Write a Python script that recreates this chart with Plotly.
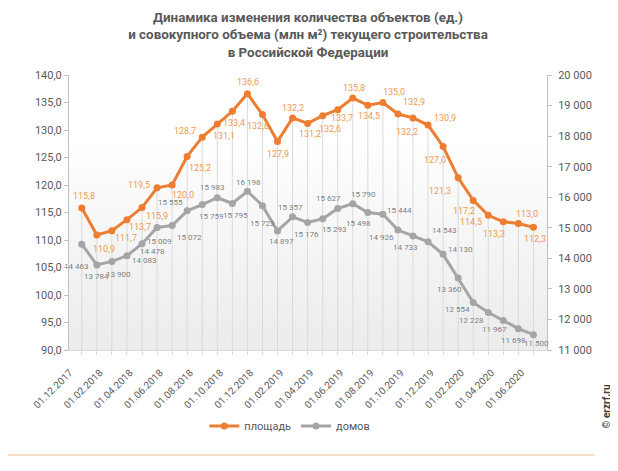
import plotly.graph_objects as go

months = ["01.12.2017", "01.01.2018", "01.02.2018", "01.03.2018", "01.04.2018", "01.05.2018",
          "01.06.2018", "01.07.2018", "01.08.2018", "01.09.2018", "01.10.2018", "01.11.2018",
          "01.12.2018", "01.01.2019", "01.02.2019", "01.03.2019", "01.04.2019", "01.05.2019",
          "01.06.2019", "01.07.2019", "01.08.2019", "01.09.2019", "01.10.2019", "01.11.2019",
          "01.12.2019", "01.01.2020", "01.02.2020", "01.03.2020", "01.04.2020", "01.05.2020",
          "01.06.2020"]

tick_labels = ["01.12.2017", "01.02.2018", "01.04.2018", "01.06.2018", "01.08.2018", "01.10.2018",
               "01.12.2018", "01.02.2019", "01.04.2019", "01.06.2019", "01.08.2019", "01.10.2019",
               "01.12.2019", "01.02.2020", "01.04.2020", "01.06.2020"]

# площадь, млн м2 (left axis)
area = [115.8, 110.9, 111.7, 113.7, 115.9, 119.5, 120.0, 125.2, 128.7, 131.1, 133.4, 136.6,
        132.8, 127.9, 132.2, 131.2, 132.6, 133.7, 135.8, 134.5, 135.0, 132.9, 132.2, 130.9,
        127.0, 121.3, 117.2, 114.5, 113.3, 113.0, 112.3]

# домов, ед. (right axis)
houses = [14463, 13784, 13900, 14083, 14478, 15009, 15072, 15555, 15759, 15983, 15795, 16198,
          15723, 14897, 15357, 15176, 15293, 15627, 15790, 15498, 15444, 14926, 14733, 14543,
          14130, 13360, 12554, 12228, 11967, 11698, 11500]

# label offsets in pixels (dx right, dy down) relative to each point
area_off = [(2, -12), (7, 14), (14, 7), (13, 7), (15, 8), (-18, -3), (11, 10), (13, 12), (-17, -6),
            (7, 12), (2, 12), (1, -12), (-4, 11), (0, 12), (0, -10), (2, 11), (7, 13), (4, 8),
            (1, -10), (1, 11), (11, -11), (16, -12), (-6, 14), (17, -7), (-8, 13), (-18, 13),
            (-9, 11), (-17, 7), (-9, 12), (9, -10), (2, 12)]

houses_off = [(-6, 22), (0, 12), (7, 13), (17, 5), (10, 8), (2, 14), (17, 12), (-17, -8), (9, 12),
              (-5, -10), (3, 12), (1, -9), (0, 18), (4, 11), (-2, -9), (-1, 12), (11, 11), (-9, -10),
              (11, -9), (-9, 11), (17, -4), (-16, 7), (-8, 12), (16, -11), (17, -5), (-9, 12),
              (-16, 7), (-17, 8), (-9, 9), (-5, 12), (3, 9)]

ORANGE = "#ED7D31"
GRAY = "#A5A5A5"
Y_MIN, Y_MAX = 90, 140
Y2_MIN, Y2_MAX = 11000, 20000

fig = go.Figure()

# drop lines from each area point down to the axis
fig.add_trace(go.Scatter(
    x=months, y=area, mode="markers",
    marker=dict(color="rgba(0,0,0,0)", size=1),
    error_y=dict(type="data", symmetric=False, array=[0] * len(area),
                 arrayminus=[v - Y_MIN for v in area], width=0, thickness=1, color="#DADADA"),
    showlegend=False, hoverinfo="skip"))

fig.add_trace(go.Scatter(
    x=months, y=area, name="площадь", mode="lines+markers",
    line=dict(color=ORANGE, width=3), marker=dict(size=7, color=ORANGE)))

fig.add_trace(go.Scatter(
    x=months, y=houses, name="домов", yaxis="y2", mode="lines+markers",
    line=dict(color=GRAY, width=3), marker=dict(size=7, color=GRAY)))

annotations = []
for m, v, (dx, dy) in zip(months, area, area_off):
    annotations.append(dict(x=m, y=v, xref="x", yref="y", text=f"{v:.1f}".replace(".", ","),
                            showarrow=False, xshift=dx, yshift=-dy, xanchor="center", yanchor="middle",
                            font=dict(family="Roboto", size=9, color="#EE9A55")))
for m, v, (dx, dy) in zip(months, houses, houses_off):
    annotations.append(dict(x=m, y=v, xref="x", yref="y2", text=f"{v:,}".replace(",", " "),
                            showarrow=False, xshift=dx, yshift=-dy, xanchor="center", yanchor="middle",
                            font=dict(family="Roboto", size=8, color="#7F7F7F")))
annotations.append(dict(text="<b>© erzrf.ru</b>", textangle=-90, xref="paper", yref="paper",
                        x=1.14, y=-0.291, showarrow=False,
                        font=dict(family="Roboto", size=10, color="#404040")))

# soft vertical gradient in plot background
shapes = []
N = 30
for i in range(N):
    t = i / N
    c = int(236 + (255 - 236) * t)
    shapes.append(dict(type="rect", xref="paper", yref="paper", x0=0, x1=1,
                       y0=0.75 * i / N, y1=0.75 * (i + 1) / N + 0.002,
                       fillcolor=f"rgb({c},{c},{c})", line=dict(width=0), layer="below"))
shapes.append(dict(type="line", xref="paper", yref="paper", x0=-0.128, x1=1.1,
                   y0=-0.382, y1=-0.382, line=dict(color="#F6D3B3", width=1.5)))

fig.update_layout(
    width=610, height=463,
    margin=dict(l=61, r=71, t=67, b=121),
    paper_bgcolor="white", plot_bgcolor="white",
    separators=", ",
    font=dict(family="Roboto", color="#595959", size=11),
    title=dict(
        text="<b>Динамика изменения количества объектов (ед.)<br>"
             "и совокупного объема (млн м²) текущего строительства<br>"
             "в Российской Федерации</b>",
        x=0.5, xref="paper", xanchor="center", y=0.970, yref="container", yanchor="top",
        font=dict(family="Roboto", size=13.4, color="#595959")),
    legend=dict(orientation="h", x=0.462, xanchor="center", y=-0.276, yanchor="middle",
                font=dict(size=11, color="#595959"), itemwidth=30, bgcolor="rgba(0,0,0,0)"),
    shapes=shapes,
    annotations=annotations,
    xaxis=dict(type="category", range=[-0.85, 30.9],
               tickvals=months, ticktext=[m if m in tick_labels else "" for m in months],
               tickangle=-45, tickfont=dict(size=10, color="#595959"),
               ticklabelshift=-12, ticklabelstandoff=8,
               showline=True, linecolor="#D9D9D9", ticks="outside", ticklen=4, tickcolor="#D9D9D9",
               showgrid=False, zeroline=False),
    yaxis=dict(range=[Y_MIN, Y_MAX], dtick=5, tickformat=".1f",
               showline=True, linecolor="#BFBFBF", ticks="outside", ticklen=4, tickcolor="#BFBFBF",
               showgrid=False, zeroline=False, tickfont=dict(size=11)),
    yaxis2=dict(range=[Y2_MIN, Y2_MAX], dtick=1000, tickformat=",d", overlaying="y", side="right",
                showline=True, linecolor="#BFBFBF", ticks="outside", ticklen=4, tickcolor="#BFBFBF",
                showgrid=False, zeroline=False, tickfont=dict(size=11), ticklabelstandoff=4),
)

fig.write_html("out.html")
